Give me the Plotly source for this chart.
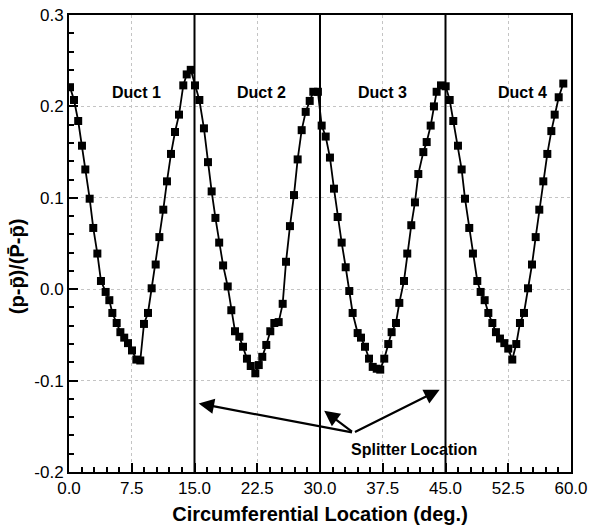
import plotly.graph_objects as go

# Circumferential static-pressure distribution, one block per duct
duct1_x = [0.12, 0.6, 1.1, 1.55, 1.95, 2.47, 2.9, 3.39, 3.82, 4.38, 4.82, 5.18, 5.7, 6.14, 6.6, 7.05,
           7.53, 8.05, 8.52, 8.96, 9.44, 9.88, 10.36, 10.8, 11.27, 11.71, 12.19, 12.67, 13.15, 13.66, 14.07, 14.55]
duct1_y = [0.221, 0.207, 0.184, 0.157, 0.131, 0.099, 0.067, 0.039, 0.009, -0.003, -0.012, -0.026, -0.037, -0.047, -0.053, -0.059,
           -0.067, -0.077, -0.078, -0.038, -0.026, 0.001, 0.027, 0.057, 0.087, 0.118, 0.148, 0.172, 0.191, 0.223, 0.235, 0.240]

duct2_x = [15.06, 15.58, 16.13, 16.61, 17.05, 17.5, 17.95, 18.42, 18.97, 19.4, 19.84, 20.36, 20.8, 21.27, 21.72, 22.27,
           22.68, 23.1, 23.58, 24.06, 24.54, 25.06, 25.54, 25.94, 26.41, 26.89, 27.33, 27.81, 28.29, 28.77, 29.2, 29.75]
duct2_y = [0.223, 0.207, 0.176, 0.139, 0.107, 0.078, 0.051, 0.026, 0.003, -0.023, -0.046, -0.052, -0.063, -0.076, -0.084, -0.092,
           -0.083, -0.074, -0.061, -0.046, -0.037, -0.036, -0.016, 0.030, 0.069, 0.103, 0.142, 0.174, 0.194, 0.206, 0.216, 0.216]

duct3_x = [30.2, 30.68, 31.19, 31.67, 32.11, 32.59, 33.07, 33.5, 33.9, 34.5, 34.9, 35.38, 35.86, 36.3, 36.78, 37.2,
           37.68, 38.16, 38.56, 39.08, 39.48, 40.04, 40.43, 40.91, 41.35, 41.75, 42.35, 42.75, 43.23, 43.62, 43.94, 44.46]
duct3_y = [0.179, 0.167, 0.144, 0.110, 0.079, 0.051, 0.024, -0.002, -0.026, -0.048, -0.053, -0.063, -0.076, -0.085, -0.087, -0.088,
           -0.076, -0.060, -0.047, -0.037, -0.015, 0.009, 0.039, 0.070, 0.095, 0.126, 0.150, 0.161, 0.179, 0.200, 0.216, 0.223]

duct4_x = [45.02, 45.5, 45.93, 46.49, 46.93, 47.33, 47.84, 48.28, 48.8, 49.2, 49.68, 50.12, 50.6, 51.03, 51.51, 52.03,
           52.5, 52.98, 53.46, 53.9, 54.38, 54.86, 55.34, 55.78, 56.21, 56.69, 57.17, 57.65, 58.05, 58.53, 59.08]
duct4_y = [0.222, 0.207, 0.184, 0.157, 0.131, 0.099, 0.067, 0.039, 0.009, -0.003, -0.012, -0.026, -0.037, -0.047, -0.054, -0.059,
           -0.065, -0.077, -0.060, -0.037, -0.026, 0.001, 0.027, 0.057, 0.087, 0.118, 0.148, 0.173, 0.191, 0.210, 0.225]

x_all = duct1_x + duct2_x + duct3_x + duct4_x
y_all = duct1_y + duct2_y + duct3_y + duct4_y

# Splitter positions and labels
splitter_x = [15, 30, 45]
duct_names = ["Duct 1", "Duct 2", "Duct 3", "Duct 4"]
duct_label_x = [8.1, 23.0, 37.5, 54.2]
duct_label_y = 0.215

arrow_tail = (34.0, -0.157)
arrow_head_x = [15.5, 30.5, 44.3]
arrow_head_y = [-0.125, -0.133, -0.110]
splitter_text = "Splitter Location"
splitter_text_pos = (41.2, -0.175)

x_range = [0, 60]
y_range = [-0.2, 0.3]
x_tickvals = [0, 7.5, 15, 22.5, 30, 37.5, 45, 52.5, 60]
x_ticktext = ["0.0", "7.5", "15.0", "22.5", "30.0", "37.5", "45.0", "52.5", "60.0"]
y_tickvals = [-0.2, -0.1, 0.0, 0.1, 0.2, 0.3]
y_ticktext = ["-0.2", "-0.1", "0.0", "0.1", "0.2", "0.3"]
x_minor_step = 1.5
y_minor_step = 0.02

FONT = "Arial, Liberation Sans, sans-serif"

fig = go.Figure()
fig.add_trace(go.Scatter(
    x=x_all, y=y_all, mode="lines+markers",
    line=dict(color="black", width=1.8),
    marker=dict(symbol="square", size=8, color="black"),
    showlegend=False,
))
# empty trace carrying the overlay axes that draw the dotted grid
fig.add_trace(go.Scatter(x=[None], y=[None], xaxis="x2", yaxis="y2",
                         showlegend=False, hoverinfo="skip"))

for sx in splitter_x:
    fig.add_shape(type="line", xref="x", yref="paper", x0=sx, x1=sx, y0=0, y1=1,
                  line=dict(color="black", width=2))

for name, lx in zip(duct_names, duct_label_x):
    fig.add_annotation(x=lx, y=duct_label_y, text=f"<b>{name}</b>", showarrow=False,
                       font=dict(family=FONT, size=16, color="black"))

for hx, hy in zip(arrow_head_x, arrow_head_y):
    fig.add_annotation(x=hx, y=hy, ax=arrow_tail[0], ay=arrow_tail[1],
                       xref="x", yref="y", axref="x", ayref="y", text="",
                       showarrow=True, arrowhead=2, arrowsize=1.4, arrowwidth=2.2,
                       arrowcolor="black", standoff=0, startstandoff=0)

fig.add_annotation(x=splitter_text_pos[0], y=splitter_text_pos[1], text=f"<b>{splitter_text}</b>",
                   showarrow=False, font=dict(family=FONT, size=16, color="black"))

# vertical y-axis title, set slightly below the axis midpoint
fig.add_annotation(x=-0.102, y=0.45, xref="paper", yref="paper", textangle=-90,
                   text="<b>(p-p\u0304)/(P\u0304-p\u0304)</b>", showarrow=False,
                   xanchor="center", yanchor="middle",
                   font=dict(family=FONT, size=20, color="black"))

axis_common = dict(
    showline=True, linecolor="black", linewidth=2, mirror=True, automargin=False,
    ticks="inside", ticklen=9, tickwidth=2, tickcolor="black",
    showgrid=False, zeroline=False, tickfont=dict(family=FONT, size=17, color="black"),
)
grid_common = dict(
    showticklabels=False, ticks="", showline=False, zeroline=False, automargin=False,
    showgrid=True, gridcolor="#c4c4c4", griddash="dot", gridwidth=1,
)

fig.update_layout(
    xaxis=dict(
        range=x_range, tickmode="array", tickvals=x_tickvals, ticktext=x_ticktext,
        minor=dict(ticks="inside", ticklen=5, tickwidth=1.5, tickcolor="black",
                   dtick=x_minor_step, tick0=0, showgrid=False),
        title=dict(text="<b>Circumferential Location (deg.)</b>",
                   font=dict(family=FONT, size=20, color="black"), standoff=10),
        **axis_common,
    ),
    yaxis=dict(
        range=y_range, tickmode="array", tickvals=y_tickvals, ticktext=y_ticktext,
        minor=dict(ticks="inside", ticklen=5, tickwidth=1.5, tickcolor="black",
                   dtick=y_minor_step, tick0=0, showgrid=False),
        **axis_common,
    ),
    xaxis2=dict(overlaying="x", anchor="y2", side="bottom", range=x_range,
                tickmode="array", tickvals=x_tickvals, **grid_common),
    yaxis2=dict(overlaying="y", anchor="x2", side="left", range=y_range,
                tickmode="array", tickvals=y_tickvals, **grid_common),
    width=589, height=531,
    margin=dict(l=69, r=18, t=15, b=59),
    paper_bgcolor="white", plot_bgcolor="white",
    font=dict(family=FONT, color="black"),
)

fig.write_html("out.html")
